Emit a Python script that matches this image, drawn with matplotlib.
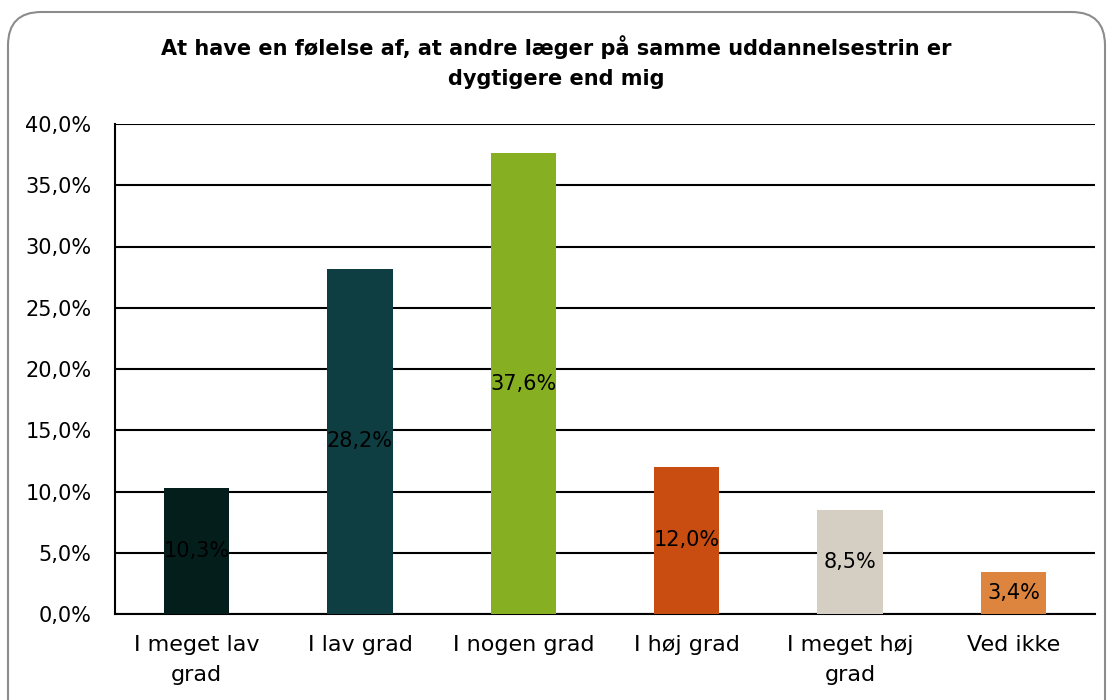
import matplotlib
matplotlib.use("Agg")
import matplotlib.pyplot as plt
from matplotlib.patches import FancyBboxPatch

categories = ["I meget lav\ngrad", "I lav grad", "I nogen grad", "I høj grad", "I meget høj\ngrad", "Ved ikke"]
values = [10.3, 28.2, 37.6, 12.0, 8.5, 3.4]
colors = ["#041E1C", "#0E3D42", "#86AF21", "#C94C10", "#D5CFC3", "#DD843E"]
yticks = [0, 5, 10, 15, 20, 25, 30, 35, 40]
title = "At have en følelse af, at andre læger på samme uddannelsestrin er\ndygtigere end mig"

plt.rcParams['font.family'] = ['DejaVu Sans']
fig = plt.figure(figsize=(11.12, 7.0), dpi=100)
fig.patch.set_facecolor("white")

border = FancyBboxPatch((8/1112, -40/700), 1097/1112, 728/700,
                        boxstyle="round,pad=0,rounding_size=0.03",
                        transform=fig.transFigure, facecolor="none",
                        edgecolor="#8C8C8C", linewidth=1.5, mutation_aspect=1112/700,
                        zorder=-1)
fig.patches.append(border)

ax = fig.add_axes([115/1112, 86/700, 980/1112, 490/700])
x = list(range(len(categories)))
bars = ax.bar(x, values, width=0.40, color=colors, zorder=3)
for xi, v in zip(x, values):
    ax.text(xi, v / 2, f"{v:.1f}%".replace(".", ","), ha="center", va="center",
            fontsize=15, color="black", zorder=4)

ax.set_xlim(-0.5, len(categories) - 0.5)
ax.set_ylim(0, 40)
ax.set_yticks(yticks)
ax.set_yticklabels([f"{t:.1f}%".replace(".", ",") for t in yticks], fontsize=15)
ax.set_xticks(x)
ax.set_xticklabels(categories, fontsize=16, linespacing=1.65)
ax.tick_params(axis="y", length=0, pad=17)
ax.tick_params(axis="x", length=0, pad=15)
ax.yaxis.grid(True, color="black", linewidth=1.5, zorder=1)
ax.set_axisbelow(True)
for s in ["top", "right"]:
    ax.spines[s].set_visible(False)
ax.spines["left"].set_color("black")
ax.spines["left"].set_linewidth(1.5)
ax.spines["bottom"].set_color("black")
ax.spines["bottom"].set_linewidth(1.5)
ax.set_facecolor("none")

fig.text(0.5, 1 - 62/700, title, ha="center", va="center", fontsize=15, fontweight="bold",
         linespacing=1.65)

fig.savefig("out.png", dpi=100)
